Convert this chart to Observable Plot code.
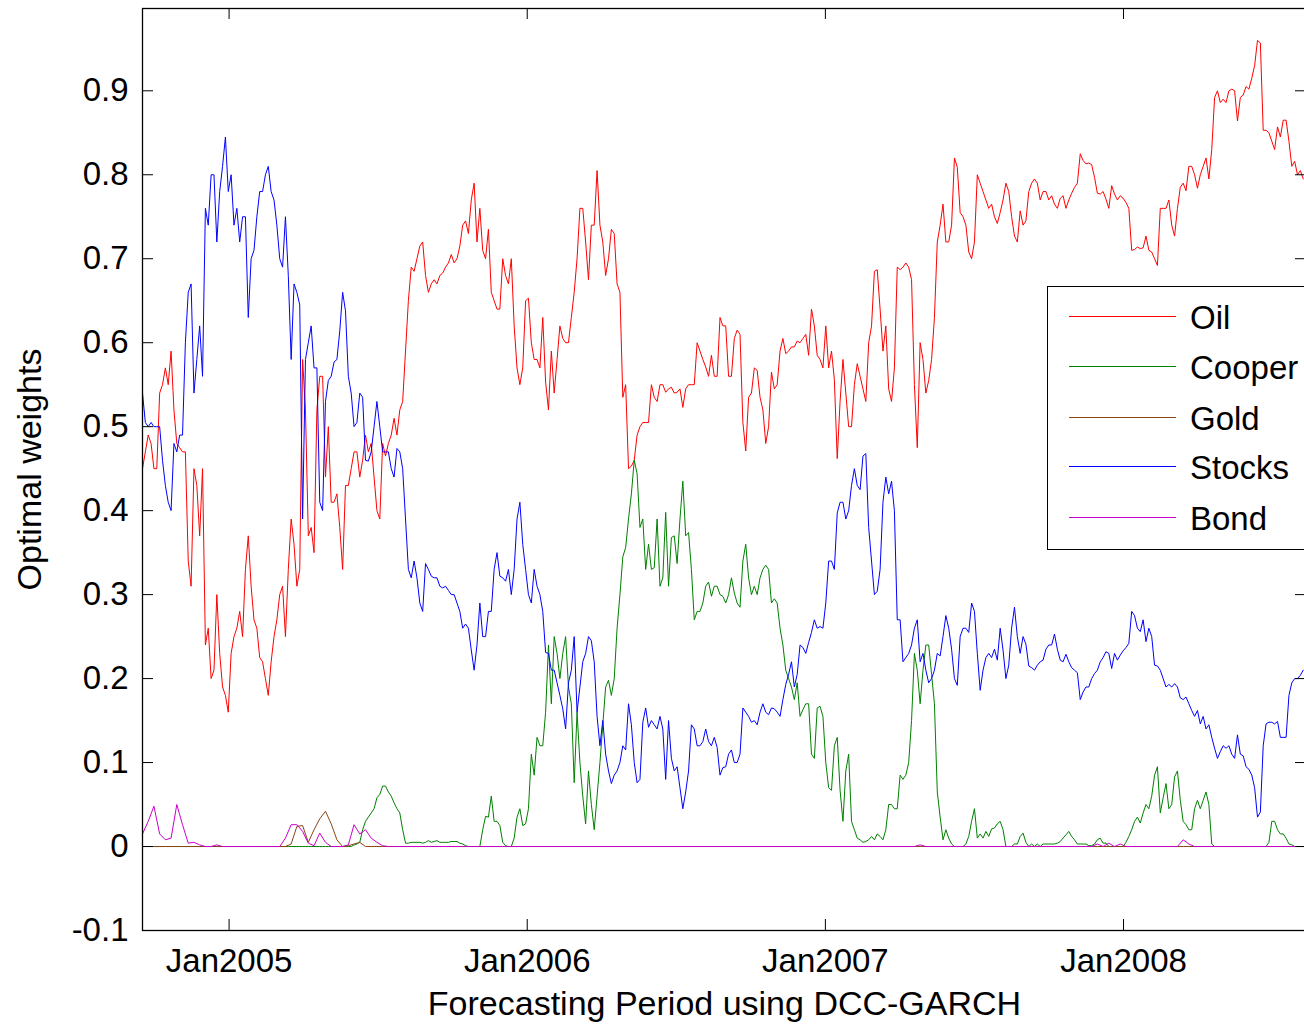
<!DOCTYPE html>
<html><head><meta charset="utf-8">
<script src="https://cdn.jsdelivr.net/npm/d3@7"></script>
<script src="https://cdn.jsdelivr.net/npm/@observablehq/plot@0.6"></script>
<style>
html,body{margin:0;padding:0;background:#fff;overflow:hidden;width:1304px;height:1024px;}
#wrap{position:relative;width:1304px;height:1024px;overflow:hidden;}
#chart svg{max-width:none !important;display:block;}
#legend{position:absolute;left:1047px;top:286px;width:320px;height:262px;border:1px solid #000;background:#fff;font-family:"Liberation Sans",Arial,sans-serif;font-size:33px;color:#000;}
.sw{position:absolute;left:21px;width:107px;height:3px;overflow:visible;}
.lbl{position:absolute;left:142px;line-height:1;transform:translateY(-50%);white-space:nowrap;}
</style>
</head><body>
<div id="wrap"><div id="chart"></div><div id="legend"></div></div>
<script>
// Oil, Cooper, Stocks: samples every half week from 2004-09-17; Gold, Bond: weekly samples
const startDate = Date.UTC(2004, 8, 17);
const seriesNames = ["Oil", "Cooper", "Gold", "Stocks", "Bond"];
const seriesColors = ["#ff0000", "#008000", "#8b4513", "#0000ff", "#cc00cc"];
const seriesStepDays = [3.5, 3.5, 7, 3.5, 7];

const oil = [
0.45,0.47,0.49,0.48,0.45,0.45,0.54,0.55,0.57,0.55,0.59,0.52,0.48,0.475,0.47,0.47,0.34,0.31,0.45,0.43,
0.37,0.45,0.24,0.26,0.20,0.21,0.30,0.23,0.19,0.18,0.16,0.23,0.25,0.26,0.28,0.25,0.33,0.37,0.31,0.27,
0.26,0.225,0.22,0.20,0.18,0.22,0.25,0.27,0.30,0.31,0.25,0.33,0.39,0.36,0.31,0.33,0.58,0.52,0.37,0.38,
0.35,0.52,0.56,0.56,0.44,0.50,0.41,0.41,0.42,0.38,0.33,0.43,0.43,0.45,0.47,0.47,0.44,0.46,0.49,0.47,
0.48,0.44,0.40,0.39,0.48,0.465,0.48,0.49,0.51,0.49,0.52,0.53,0.59,0.65,0.69,0.685,0.70,0.715,0.72,0.68,
0.66,0.67,0.675,0.67,0.68,0.683,0.69,0.695,0.705,0.695,0.70,0.715,0.74,0.745,0.73,0.77,0.79,0.72,0.76,0.71,
0.70,0.735,0.66,0.65,0.64,0.64,0.70,0.68,0.67,0.70,0.62,0.57,0.55,0.57,0.65,0.653,0.60,0.58,0.58,0.57,
0.63,0.553,0.52,0.59,0.54,0.58,0.62,0.605,0.60,0.60,0.63,0.66,0.70,0.76,0.76,0.72,0.675,0.74,0.74,0.805,
0.74,0.72,0.68,0.70,0.735,0.73,0.67,0.66,0.535,0.55,0.45,0.453,0.46,0.49,0.50,0.505,0.505,0.505,0.55,0.535,
0.53,0.55,0.55,0.541,0.545,0.547,0.54,0.541,0.545,0.523,0.545,0.55,0.55,0.55,0.60,0.59,0.58,0.571,0.56,0.585,
0.56,0.56,0.63,0.62,0.62,0.56,0.56,0.605,0.615,0.61,0.505,0.471,0.535,0.54,0.57,0.567,0.535,0.52,0.48,0.50,
0.565,0.545,0.55,0.59,0.605,0.587,0.59,0.595,0.595,0.602,0.60,0.605,0.61,0.585,0.64,0.62,0.585,0.58,0.57,0.62,
0.57,0.59,0.556,0.462,0.53,0.58,0.54,0.50,0.50,0.55,0.575,0.56,0.545,0.53,0.60,0.62,0.685,0.687,0.64,0.59,
0.62,0.545,0.53,0.57,0.69,0.687,0.69,0.695,0.69,0.675,0.55,0.475,0.60,0.58,0.54,0.555,0.58,0.63,0.72,0.74,
0.765,0.72,0.72,0.74,0.82,0.809,0.755,0.75,0.74,0.708,0.70,0.72,0.80,0.79,0.78,0.77,0.76,0.765,0.75,0.742,
0.755,0.77,0.79,0.78,0.75,0.727,0.72,0.757,0.74,0.745,0.78,0.79,0.795,0.79,0.77,0.78,0.78,0.77,0.775,0.765,
0.76,0.772,0.775,0.76,0.77,0.778,0.785,0.79,0.825,0.817,0.813,0.814,0.812,0.797,0.778,0.777,0.78,0.771,0.76,0.787,
0.777,0.77,0.775,0.772,0.767,0.76,0.71,0.711,0.714,0.712,0.713,0.727,0.71,0.708,0.70,0.692,0.76,0.76,0.76,0.77,
0.74,0.727,0.76,0.785,0.79,0.781,0.81,0.81,0.80,0.784,0.80,0.81,0.82,0.795,0.83,0.892,0.90,0.886,0.89,0.886,
0.90,0.902,0.90,0.864,0.892,0.895,0.905,0.902,0.915,0.93,0.96,0.957,0.853,0.853,0.85,0.84,0.83,0.857,0.845,0.865,
0.865,0.84,0.81,0.816,0.80,0.805,0.795
];

const cooper = [
0,0,0,0,0,0,0,0,0,0,0,0,0,0,0,0,0,0,0,0,
0,0,0,0,0,0,0,0,0,0,0,0,0,0,0,0,0,0,0,0,
0,0,0,0,0,0,0,0,0,0,0,0,0,0,0,0,0,0,0,0,
0,0,0,0,0,0,0,0,0,0,0,0,0,0,0.002,0.003,0.005,0.02,0.03,0.035,
0.04,0.045,0.058,0.062,0.072,0.072,0.065,0.06,0.052,0.045,0.04,0.02,0.004,0.004,0.005,0.005,0.005,0.005,0.004,0.005,
0.007,0.005,0.006,0.007,0.005,0.005,0.005,0.005,0.006,0.006,0.006,0.004,0.003,0.001,0,0,0,0,0,0.02,
0.036,0.035,0.06,0.03,0.03,0.025,0.005,0.001,0,0,0.01,0.035,0.045,0.025,0.027,0.045,0.11,0.085,0.13,0.12,
0.12,0.16,0.24,0.17,0.25,0.23,0.20,0.23,0.25,0.19,0.17,0.076,0.16,0.10,0.06,0.027,0.09,0.05,0.02,0.06,
0.10,0.145,0.19,0.198,0.18,0.20,0.26,0.30,0.345,0.356,0.39,0.42,0.46,0.444,0.38,0.39,0.33,0.36,0.33,0.332,
0.39,0.31,0.32,0.398,0.31,0.368,0.37,0.337,0.39,0.435,0.37,0.374,0.33,0.27,0.28,0.28,0.29,0.31,0.315,0.298,
0.31,0.31,0.30,0.298,0.29,0.30,0.32,0.302,0.29,0.285,0.34,0.36,0.32,0.30,0.31,0.30,0.32,0.33,0.335,0.33,
0.29,0.295,0.29,0.26,0.24,0.21,0.20,0.19,0.175,0.195,0.155,0.163,0.17,0.17,0.11,0.105,0.165,0.167,0.155,0.10,
0.07,0.067,0.12,0.13,0.067,0.03,0.09,0.11,0.03,0.02,0.01,0.008,0.005,0.006,0.008,0.012,0.008,0.015,0.012,0.008,
0.02,0.05,0.05,0.045,0.045,0.085,0.08,0.085,0.10,0.15,0.23,0.21,0.17,0.21,0.24,0.24,0.205,0.17,0.065,0.035,
0.008,0.02,0.01,0.003,0,0,0,0,0.003,0.012,0.03,0.045,0.01,0.015,0.01,0.018,0.012,0.021,0.022,0.027,
0.03,0.02,0,0,0,0.003,0.003,0.012,0.016,0.005,0,0.003,0,0.003,0,0.003,0.003,0.003,0.003,0.003,
0.004,0.006,0.01,0.014,0.018,0.012,0.008,0.003,0.003,0.003,0.003,0.001,0.001,0.003,0.008,0.01,0.004,0.004,0,0,
0,0,0,0,0.005,0.012,0.02,0.03,0.035,0.028,0.04,0.05,0.045,0.06,0.085,0.095,0.04,0.058,0.075,0.045,
0.05,0.083,0.09,0.055,0.03,0.026,0.02,0.02,0.045,0.055,0.045,0.055,0.065,0.05,0.003,0,0,0,0,0,
0,0,0,0,0,0,0,0,0,0,0,0,0,0,0.005,0.03,0.03,0.02,0.015,0.015,
0.01,0.003,0.002,0,0,0,0
];

const gold = [
0,0,0,0,0,0,0,0,0,0,
0,0,0,0,0,0,0,0,0,0,
0,0,0,0,0,0,0.003,0.024,0.025,0.005,
0.02,0.033,0.042,0.027,0.008,0,0.001,0.003,0.005,0,
0,0,0,0,0,0,0,0,0,0, 0,0,0,0,0,0,0,0,0,0,
0,0,0,0,0,0,0,0,0,0, 0,0,0,0,0,0,0,0,0,0,
0,0,0,0,0,0,0,0,0,0, 0,0,0,0,0,0,0,0,0,0,
0,0,0,0,0,0,0,0,0,0, 0,0,0,0,0,0,0,0,0,0,
0,0,0,0,0,0,0,0,0,0, 0,0,0,0,0,0,0,0,0,0,
0,0,0,0,0,0,0,0,0,0, 0,0,0,0,0,0,0,0,0,0,
0,0,0,0,0,0,0,0,0,0, 0,0,0,0,0,0,0,0,0,0,
0,0,0,0,0,0,0,0,0,0, 0,0,0,0,0,0,0,0,0,0,
0,0,0,0
];

const stocks = [
0.54,0.505,0.50,0.505,0.50,0.50,0.50,0.46,0.43,0.41,0.40,0.48,0.47,0.49,0.49,0.60,0.66,0.67,0.54,0.58,
0.62,0.56,0.76,0.74,0.80,0.80,0.72,0.78,0.81,0.845,0.78,0.80,0.74,0.76,0.72,0.75,0.75,0.63,0.70,0.71,
0.75,0.78,0.78,0.80,0.81,0.78,0.77,0.74,0.70,0.69,0.75,0.68,0.58,0.67,0.66,0.645,0.39,0.58,0.60,0.62,
0.57,0.57,0.41,0.40,0.53,0.555,0.56,0.577,0.58,0.614,0.66,0.638,0.56,0.54,0.50,0.505,0.54,0.535,0.46,0.459,
0.47,0.50,0.53,0.50,0.47,0.47,0.47,0.45,0.44,0.474,0.47,0.45,0.39,0.33,0.32,0.34,0.32,0.29,0.28,0.337,
0.33,0.322,0.32,0.32,0.31,0.308,0.31,0.305,0.30,0.30,0.29,0.28,0.26,0.265,0.26,0.234,0.21,0.24,0.29,0.25,
0.25,0.28,0.28,0.33,0.35,0.322,0.32,0.316,0.33,0.30,0.33,0.39,0.41,0.36,0.33,0.30,0.29,0.33,0.31,0.30,
0.28,0.231,0.23,0.21,0.21,0.195,0.18,0.164,0.14,0.195,0.21,0.25,0.16,0.19,0.22,0.23,0.25,0.245,0.22,0.155,
0.12,0.15,0.11,0.09,0.075,0.085,0.09,0.10,0.12,0.115,0.17,0.145,0.10,0.076,0.08,0.148,0.165,0.142,0.15,0.145,
0.14,0.155,0.14,0.08,0.15,0.105,0.09,0.095,0.07,0.045,0.065,0.09,0.145,0.14,0.12,0.12,0.125,0.14,0.125,0.12,
0.13,0.118,0.085,0.094,0.095,0.11,0.115,0.10,0.10,0.11,0.165,0.16,0.155,0.148,0.15,0.145,0.16,0.17,0.16,0.157,
0.165,0.164,0.16,0.155,0.175,0.193,0.205,0.22,0.19,0.205,0.24,0.237,0.23,0.243,0.255,0.27,0.26,0.262,0.26,0.29,
0.34,0.34,0.33,0.397,0.41,0.41,0.39,0.40,0.43,0.45,0.43,0.425,0.465,0.468,0.38,0.34,0.30,0.304,0.33,0.41,
0.44,0.42,0.435,0.40,0.27,0.27,0.22,0.225,0.23,0.24,0.26,0.27,0.22,0.23,0.21,0.195,0.20,0.21,0.23,0.227,
0.25,0.275,0.26,0.235,0.20,0.192,0.25,0.26,0.26,0.255,0.29,0.28,0.23,0.186,0.21,0.225,0.23,0.225,0.235,0.222,
0.26,0.234,0.20,0.216,0.26,0.285,0.25,0.23,0.25,0.241,0.215,0.213,0.21,0.216,0.22,0.222,0.235,0.24,0.24,0.253,
0.235,0.222,0.22,0.229,0.22,0.213,0.21,0.207,0.175,0.184,0.19,0.19,0.20,0.206,0.21,0.22,0.225,0.232,0.23,0.212,
0.23,0.222,0.228,0.233,0.237,0.242,0.28,0.275,0.26,0.256,0.27,0.244,0.26,0.25,0.216,0.215,0.21,0.20,0.19,0.193,
0.19,0.194,0.19,0.177,0.175,0.178,0.17,0.162,0.155,0.162,0.146,0.155,0.14,0.145,0.13,0.117,0.105,0.113,0.12,0.117,
0.12,0.11,0.105,0.133,0.11,0.108,0.095,0.092,0.085,0.07,0.035,0.041,0.12,0.146,0.148,0.148,0.146,0.149,0.13,0.13,
0.13,0.18,0.195,0.20,0.20,0.204,0.21
];

const bond = [
0.015,0.03,0.048,0.015,0.008,0.01,0.05,0.026,0.004,0.005,
0.002,0,0,0.002,0,0,0,0,0,0,
0,0,0,0,0,0.01,0.026,0.026,0.018,0.004,
0.001,0.016,0.005,0,0,0,0.002,0.026,0.015,0.02,
0.01,0.005,0.001,0,0,0,0,0,0,0,
0,0,0,0,0,0,0,0,0,0, 0,0,0,0,0,0,0,0,0,0,
0,0,0,0,0,0,0,0,0,0, 0,0,0,0,0,0,0,0,0,0,
0,0,0,0,0,0,0,0,0,0, 0,0,0,0,0,0,0,0,0,0,
0,0,0,0,0,0,0,0,0,0, 0,0,0,0,0,0,0,0,0,0,
0,0,0,0,0,0,0.002,0,0,0,
0,0,0,0,0,0,0,0,0,0, 0,0,0,0,0,0,0,0,0,0,
0,0,0,0,0,0,0,0.003,0,0.004,
0,0.003,0,0,0,0,0,0,0,0,
0,0,0.008,0.003,0,0,0,0,0,0,
0,0,0,0,0,0,0,0,0,0,
0,0,0,0
];

const yTicks = [-0.1, 0, 0.1, 0.2, 0.3, 0.4, 0.5, 0.6, 0.7, 0.8, 0.9];
const xTickYears = [2005, 2006, 2007, 2008];
const xTickLabels = ["Jan2005", "Jan2006", "Jan2007", "Jan2008"];
const yLabel = "Optimal weights";
const xLabel = "Forecasting Period using DCC-GARCH";

const allValues = [oil, cooper, gold, stocks, bond];
console.log(allValues.map(a => a.length));

const xTicks = xTickYears.map(y => new Date(Date.UTC(y, 0, 1)));

const W = 1310, H = 1024, ML = 142, MR = 4, MT = 8, MB = 94;
const innerW = W - ML - MR, innerH = H - MT - MB;
const TL = 11;
const font = "'Liberation Sans', Arial, Helvetica, sans-serif";

const lineMarks = allValues.map((vals, k) =>
  Plot.line(vals, {
    x: (d, i) => new Date(startDate + i * seriesStepDays[k] * 864e5),
    y: d => d, stroke: seriesColors[k], strokeWidth: 1
  })
);

const chart = Plot.plot({
  width: W, height: H,
  marginLeft: ML, marginRight: MR, marginTop: MT, marginBottom: MB,
  style: {fontFamily: font, fontSize: "33px", background: "#fff", color: "#000", maxWidth: "none"},
  x: {type: "utc", domain: [new Date(Date.UTC(2004, 8, 17)), new Date(Date.UTC(2008, 7, 12))]},
  y: {domain: [-0.1, 0.998]},
  marks: [
    ...lineMarks,
    Plot.tickY(yTicks, {y: d => d, insetRight: innerW - TL, stroke: "#000"}),
    Plot.tickY(yTicks, {y: d => d, insetLeft: innerW - TL, stroke: "#000"}),
    Plot.tickX(xTicks, {x: d => d, insetTop: innerH - TL, stroke: "#000"}),
    Plot.tickX(xTicks, {x: d => d, insetBottom: innerH - TL, stroke: "#000"}),
    Plot.axisY({ticks: yTicks, tickSize: 0, tickPadding: 14, fontSize: 33,
      tickFormat: d => (Math.abs(d) < 1e-9 ? "0" : d.toFixed(1)), label: null}),
    Plot.axisX({ticks: xTicks, tickSize: 0, tickPadding: 18, fontSize: 33,
      tickFormat: d => xTickLabels[xTickYears.indexOf(d.getUTCFullYear())], label: null}),
    Plot.frame({stroke: "#000", strokeWidth: 1.3}),
    Plot.text([yLabel], {text: d => d, frameAnchor: "left", dx: -112, rotate: -90, fontSize: 34,
      textAnchor: "middle", lineAnchor: "middle"}),
    Plot.text([xLabel], {text: d => d, frameAnchor: "bottom", dy: 74, fontSize: 34,
      textAnchor: "middle", lineAnchor: "middle"})
  ]
});
document.getElementById("chart").appendChild(chart);

// legend
const svgNS = "http://www.w3.org/2000/svg";
const leg = document.getElementById("legend");
const rowY = [30, 80, 131, 180, 231];
seriesNames.forEach((name, k) => {
  const sw = document.createElementNS(svgNS, "svg");
  sw.setAttribute("class", "sw");
  sw.setAttribute("width", "107");
  sw.setAttribute("height", "3");
  sw.style.top = (rowY[k] - 2) + "px";
  const ln = document.createElementNS(svgNS, "line");
  ln.setAttribute("x1", "0"); ln.setAttribute("x2", "107");
  ln.setAttribute("y1", "1.5"); ln.setAttribute("y2", "1.5");
  ln.setAttribute("stroke", seriesColors[k]);
  ln.setAttribute("stroke-width", "1");
  sw.appendChild(ln);
  leg.appendChild(sw);
  const lb = document.createElement("div");
  lb.className = "lbl";
  lb.style.top = rowY[k] + "px";
  lb.textContent = name;
  leg.appendChild(lb);
});
</script>
</body></html>
